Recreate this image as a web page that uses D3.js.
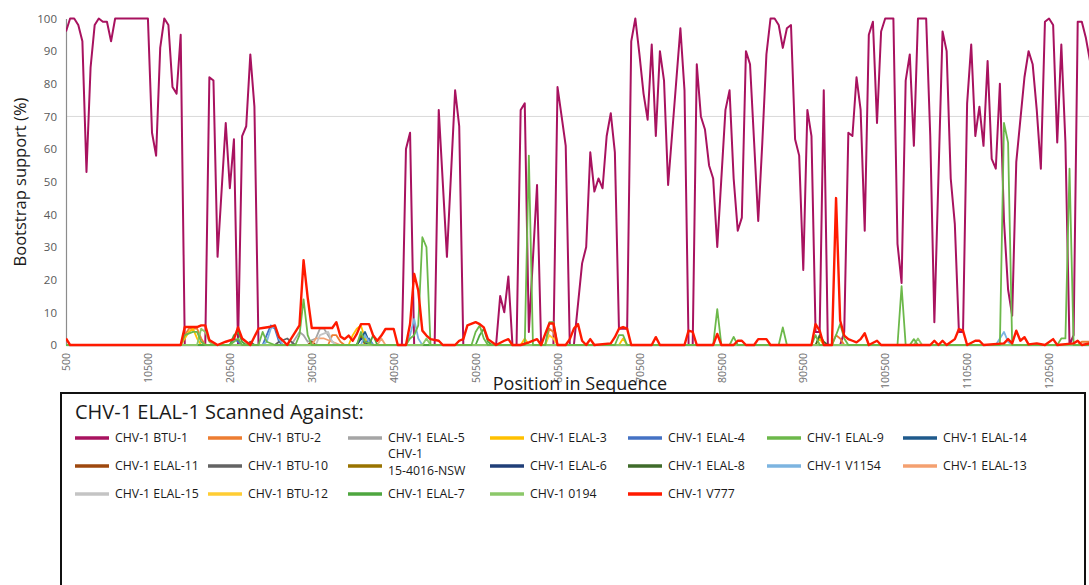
<!DOCTYPE html>
<html>
<head>
<meta charset="utf-8">
<script src="https://cdn.jsdelivr.net/npm/d3@7"></script>
<style>
  body { margin: 0; background: #fff; }
  svg { display: block; font-family: "Open Sans", sans-serif; }
</style>
</head>
<body>
<svg id="chart" width="1089" height="585"></svg>
<script>
// window position (bp) -> bootstrap support (%) at the turning points
var btu1 = [[500,96],[1000,100],[1500,100],[2000,98],[2500,93],[3000,53],[3500,85],[4000,98],[4500,100],[5000,99],[5500,99],[6000,93],[6500,100],[10500,100],[11000,65],[11500,58],[12000,91],[12500,100],[13000,98],[13500,79],[14000,77],[14500,95],[15000,0],[17500,0],[18000,82],[18500,81],[19000,27],[20000,68],[20500,48],[21000,63],[21500,0],[22000,64],[22500,67],[23000,89],[23500,73],[24000,0],[41500,0],[42000,60],[42500,65],[43000,0],[45500,0],[46000,72],[47000,27],[48000,78],[48500,67],[49000,0],[53000,0],[53500,15],[54000,10],[54500,21],[55000,0],[55500,0],[56000,72],[56500,74],[57000,4],[58000,49],[58500,0],[60000,0],[60500,79],[61000,70],[61500,61],[62000,0],[62500,0],[63500,25],[64000,30],[64500,59],[65000,47],[65500,51],[66000,48],[66500,64],[67000,71],[67500,59],[68000,5],[69000,5],[69500,93],[70000,100],[70500,89],[71000,77],[71500,69],[72000,92],[72500,64],[73000,90],[73500,81],[74000,49],[74500,65],[75000,81],[75500,97],[76000,78],[76500,0],[77000,0],[77500,86],[78000,70],[78500,66],[79000,55],[79500,51],[80000,30],[81000,72],[81500,78],[82000,51],[82500,35],[83000,39],[83500,90],[84000,86],[84500,62],[85000,38],[85500,62],[86000,89],[86500,100],[87000,100],[87500,98],[88000,91],[88500,97],[89000,98],[89500,63],[90000,58],[90500,23],[91000,72],[91500,64],[92000,4],[92500,4],[93000,78],[93500,0],[95000,0],[95500,4],[96000,65],[96500,64],[97000,82],[97500,72],[98000,35],[98500,95],[99000,99],[99500,68],[100000,96],[100500,100],[101500,100],[102000,31],[102500,19],[103000,81],[103500,89],[104000,61],[104500,100],[105500,100],[106000,64],[106500,7],[107500,96],[108000,90],[108500,51],[109000,37],[109500,4],[110000,4],[110500,74],[111000,92],[111500,64],[112000,73],[112500,61],[113000,87],[113500,57],[114000,54],[114500,80],[115000,38],[115500,17],[116000,9],[116500,56],[117000,69],[117500,82],[118000,90],[118500,86],[119000,72],[119500,54],[120000,99],[120500,100],[121000,98],[121500,62],[122000,92],[122500,62],[123000,0],[123500,3],[124000,99],[124500,99],[125000,94],[125500,87]];

var v777 = [[500,2],[1000,0],[14500,0],[15000,5.5],[16500,5.5],[17000,6],[17500,6],[18000,1.5],[19000,0],[20000,1],[21000,1.8],[21500,5.4],[22000,2],[23000,0],[24000,5],[24500,5.2],[25500,5.6],[26000,6],[26500,2.4],[27000,1.3],[27500,0],[28000,2],[29000,6],[29500,26],[30000,14.6],[30500,5.2],[33000,5.2],[33500,7],[34000,2.6],[34500,1.8],[35000,2.9],[35500,1.3],[36000,3.4],[36500,6.4],[37500,6.4],[38000,2.9],[38500,1.3],[39000,2.9],[39500,4.9],[40500,4.9],[41000,0],[42000,0],[42500,6.4],[43000,21.8],[43500,16.7],[44000,4.4],[44500,2.9],[45000,1.8],[46000,1.3],[46500,0],[48000,0],[48500,1.3],[49000,1.8],[49500,6],[50500,7],[51000,6.4],[51500,5.4],[52000,1.8],[53000,0],[54000,1.3],[54500,1.8],[55000,0],[56000,0],[57000,0.8],[58000,1.8],[58500,0],[59000,3.4],[59500,6.6],[60000,6.6],[60500,0],[61500,0],[62000,1.8],[62500,5],[63000,6.4],[63500,1.3],[64000,0],[64500,1.8],[65000,0],[67000,0.5],[67500,2.4],[68000,5],[68500,5.5],[69000,5],[69500,0],[72000,0],[72500,2.4],[73000,0],[76000,0],[76500,4.4],[77000,4],[77500,0],[79500,0],[80000,3.4],[80500,0],[82000,0],[82500,1.3],[83000,1.3],[83500,0],[84500,0],[85000,1.8],[86000,1.8],[86500,0],[91500,0],[92000,6.4],[92500,4.4],[93000,0],[94000,0],[94500,45],[95000,7.5],[95500,2.9],[96000,1.8],[96500,1.3],[97000,0.8],[97500,1.8],[98000,3.6],[98500,0],[99500,1.3],[100000,0],[106000,0],[106500,1.3],[107000,0],[107500,1.3],[108000,0],[109000,1.8],[109500,4.9],[110000,4.4],[110500,0],[111500,1.3],[112000,1.3],[112500,0],[115000,0.5],[115500,1.8],[116000,0.5],[116500,4.4],[117000,1.3],[117500,2.4],[118000,0.2],[119000,0.5],[120000,0],[121000,1.8],[121500,0],[123500,0.5],[124000,1.3],[124500,0],[125500,0.5]];

var elal9 = [[500,0],[14500,0],[15000,3],[16000,4],[16500,4],[17000,1],[17500,0],[20500,0],[21000,1],[21500,2],[22000,0],[24000,0],[24500,4],[25000,1],[26000,0],[28500,0],[29000,3],[29500,14],[30000,3],[30500,0],[36000,0],[36500,4],[37000,1],[38000,0],[42000,0],[42500,2],[43000,3],[43500,6],[44000,33],[44500,30],[45000,0],[50000,0],[50500,4],[51000,6],[51500,2],[52000,0],[56500,0],[57000,58],[57500,0],[59000,0],[59500,7],[60000,7],[60500,0],[67500,0],[68000,3],[68500,3],[69000,0],[79500,0],[80000,11],[80500,0],[81500,0],[82000,2.5],[82500,0],[87500,0],[88000,5.4],[88500,0],[91500,0],[92000,3],[92500,0],[94000,0],[94500,3],[95000,6.4],[95500,2],[96000,0],[102000,0],[102500,18],[103000,0],[103500,0],[104000,1.8],[104500,0],[114500,0],[115000,68],[115500,62],[116000,0],[121500,0],[122000,2],[122500,2],[123000,54],[123500,0],[125500,0]];

var btu2 = [[500,0],[14500,0],[15000,3],[15500,5],[16500,5],[17000,2],[17500,0],[32500,0],[33000,3],[33500,3],[34000,1],[34500,0],[59000,0],[59500,5],[60000,4],[60500,0],[94000,0],[94500,3],[95000,2],[95500,0],[124000,0],[124500,1],[125500,1]];
var elal5 = [[500,0],[28000,0],[28500,2],[29000,4],[29500,3],[30000,1],[31000,2],[31500,5],[32000,5],[32500,3],[33000,1],[33500,0],[125500,0]];
var elal3 = [[500,0],[14500,0],[15000,2],[15500,4],[16000,5],[16500,2],[17000,0],[35000,0],[35500,3],[36000,5],[36500,6],[37000,2],[37500,0],[56000,0],[56500,2],[57000,0],[68000,0],[68500,2],[69000,0],[92000,0],[92500,2],[93000,0],[125500,0]];
var elal4 = [[500,0],[20500,0],[21000,2],[21500,1],[22000,0],[24500,0],[25000,3],[25500,6],[26000,5],[26500,1],[27000,0],[37000,0],[37500,2],[38000,0],[125500,0]];
var elal14 = [[500,0],[36000,0],[36500,2],[37000,4],[37500,1],[38000,0],[125500,0]];
var elal11 = [[500,0],[30000,0],[30500,1],[31000,0],[125500,0]];
var btu10 = [[500,0],[22500,0],[23000,1],[23500,0],[26000,0],[26500,1],[27500,2],[28000,1],[28500,0],[125500,0]];
var nsw = [[500,0],[36000,0],[36500,3],[37000,0],[125500,0]];
var elal6 = [[500,0],[36000,0],[36500,2],[37000,1],[37500,0],[125500,0]];
var elal8 = [[500,0],[92000,0],[92500,3],[93000,1],[93500,0],[125500,0]];
var v1154 = [[500,0],[24500,0],[25000,1],[25500,5],[26000,6],[26500,2],[27000,0],[36500,0],[37000,3],[37500,1],[38000,0],[42000,0],[42500,3],[43000,8],[43500,2],[44000,0],[114000,0],[114500,2],[115000,4],[115500,1],[116000,0],[125500,0]];
var elal13 = [[500,0],[30500,0],[31000,2],[32000,2],[33000,1],[34000,0],[38500,0],[39000,2],[39500,0],[125500,0]];
var elal15 = [[500,0],[31000,0],[31500,3],[32500,4],[33000,1],[33500,0],[125500,0]];
var btu12 = [[500,0],[59000,0],[59500,3],[60000,2],[60500,0],[125500,0]];
var elal7 = [[500,0],[20500,0],[21000,3],[21500,4],[22000,1],[22500,0],[37500,0],[38000,3],[38500,0],[50500,0],[51000,3],[51500,5],[52000,1],[52500,0],[125500,0]];
var s0194 = [[500,0],[16500,0],[17000,5],[17500,4],[18000,1],[18500,0],[44000,0],[44500,2],[45000,0],[104000,0],[104500,2],[105000,0],[125500,0]];

// legend order (3 rows x 7 columns)
var names = ["CHV-1 BTU-1","CHV-1 BTU-2","CHV-1 ELAL-5","CHV-1 ELAL-3","CHV-1 ELAL-4","CHV-1 ELAL-9","CHV-1 ELAL-14",
             "CHV-1 ELAL-11","CHV-1 BTU-10","CHV-1 15-4016-NSW","CHV-1 ELAL-6","CHV-1 ELAL-8","CHV-1 V1154","CHV-1 ELAL-13",
             "CHV-1 ELAL-15","CHV-1 BTU-12","CHV-1 ELAL-7","CHV-1 0194","CHV-1 V777"];
var values = [btu1, btu2, elal5, elal3, elal4, elal9, elal14,
              elal11, btu10, nsw, elal6, elal8, v1154, elal13,
              elal15, btu12, elal7, s0194, v777];
var colors = ["#a8125f","#ed7d31","#a5a5a5","#ffc000","#4472c4","#6cb84a","#1f5a8c",
              "#9e480e","#636363","#997300","#203f78","#3f6b2a","#7cb4e0","#f4a070",
              "#c4c4c4","#ffcd33","#4ea63f","#8cc86a","#ff1a00"];

var xTicks = d3.range(500, 120501, 10000);
var yTicks = d3.range(0, 101, 10);

var svg = d3.select("#chart");
var plotLeft = 66, plotRight = 1090, plotTop = 18.5, plotBottom = 345;

var x = d3.scaleLinear().domain([500, 125500]).range([plotLeft, plotRight]);
var y = d3.scaleLinear().domain([0, 100]).range([plotBottom, plotTop]);

svg.append("clipPath").attr("id", "clip")
  .append("rect").attr("x", plotLeft).attr("y", 0).attr("width", plotRight - plotLeft).attr("height", plotBottom + 4);

// 70% threshold line
svg.append("line")
    .attr("x1", plotLeft).attr("x2", plotRight)
    .attr("y1", y(70)).attr("y2", y(70))
    .attr("stroke", "#d9d9d9").attr("stroke-width", 1);

// y axis
var yAxis = svg.append("g").attr("transform", "translate(" + plotLeft + ",0)")
    .call(d3.axisLeft(y).tickValues(yTicks).tickSize(0).tickPadding(9));
yAxis.select(".domain").attr("stroke", "#8c8c8c").attr("stroke-width", 1.2);
yAxis.selectAll("text").attr("fill", "#595959").style("font-size", "11.5px").style("font-family", "Open Sans");

// x axis (labels rotated)
var xAxis = svg.append("g").attr("transform", "translate(0," + plotBottom + ")")
    .call(d3.axisBottom(x).tickValues(xTicks).tickSize(0).tickFormat(d3.format("d")));
xAxis.select(".domain").attr("stroke", "#a6a6a6").attr("stroke-width", 1.5);
xAxis.selectAll("text")
    .attr("fill", "#6e6e6e").style("font-size", "10.5px").style("font-family", "Open Sans")
    .attr("text-anchor", "end")
    .attr("transform", "rotate(-90)")
    .attr("x", -8).attr("y", 0).attr("dy", "0.35em");

var line = d3.line()
    .x(function(d) { return x(d[0]); })
    .y(function(d) { return y(d[1]); });

var plot = svg.append("g").attr("clip-path", "url(#clip)");

// BTU-1 first (underneath), then the minor strains, ELAL-9 and V777 last on top
var order = [0, 1, 2, 3, 4, 6, 7, 8, 9, 10, 11, 12, 13, 14, 15, 16, 17, 5, 18];
order.forEach(function(i) {
  plot.append("path")
      .datum(values[i])
      .attr("d", line)
      .attr("fill", "none")
      .attr("stroke", colors[i])
      .attr("stroke-width", i === 18 ? 2.4 : (i === 0 ? 2 : 1.8))
      .attr("stroke-linejoin", "round");
});

// axis titles
svg.append("text")
    .attr("transform", "translate(26,182) rotate(-90)")
    .attr("text-anchor", "middle")
    .style("font-size", "16.5px").attr("fill", "#1a1a1a")
    .text("Bootstrap support (%)");

svg.append("text")
    .attr("x", 580).attr("y", 390)
    .attr("text-anchor", "middle")
    .style("font-size", "18px").attr("fill", "#1a1a1a")
    .text("Position in Sequence");

// legend box
var lg = svg.append("g");
lg.append("rect")
    .attr("x", 61).attr("y", 393).attr("width", 1024).attr("height", 210)
    .attr("fill", "none").attr("stroke", "#111").attr("stroke-width", 2);

lg.append("text")
    .attr("x", 75).attr("y", 419)
    .style("font-size", "20px").attr("fill", "#1a1a1a")
    .text("CHV-1 ELAL-1 Scanned Against:");

var colX = [75, 208, 348, 490, 628, 767, 903];
var rowY = [438, 466, 494];

names.forEach(function(n, i) {
  var cx = colX[i % 7], cy = rowY[Math.floor(i / 7)];
  var item = lg.append("g").attr("transform", "translate(" + cx + "," + cy + ")");
  item.append("line")
      .attr("x1", 0).attr("x2", 34).attr("y1", 0).attr("y2", 0)
      .attr("stroke", colors[i]).attr("stroke-width", 3.4);
  var t = item.append("text")
      .attr("x", 40).attr("y", 0).attr("dy", "0.35em")
      .style("font-size", "12.3px").attr("fill", "#1a1a1a");
  if (n === "CHV-1 15-4016-NSW") {
    t.attr("dy", null);
    t.append("tspan").attr("x", 40).attr("y", -8).text("CHV-1");
    t.append("tspan").attr("x", 40).attr("y", 9).text("15-4016-NSW");
  } else {
    t.text(n);
  }
});
</script>
</body>
</html>
